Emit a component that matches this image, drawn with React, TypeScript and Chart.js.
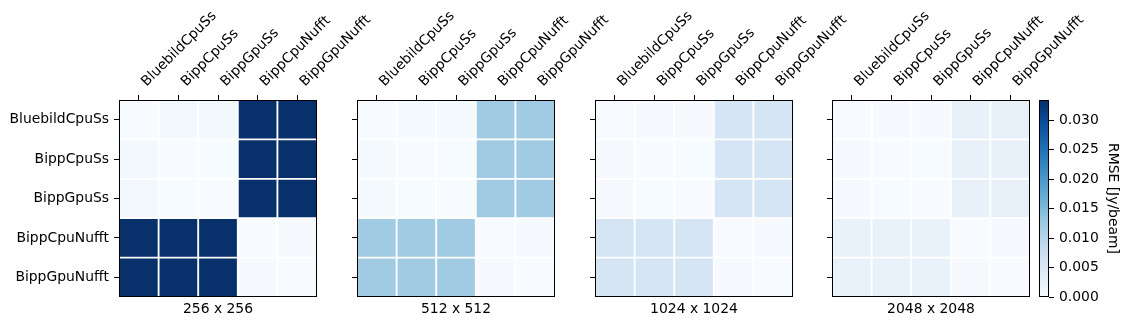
import React, { useEffect, useRef } from "react";
import { Chart, registerables } from "chart.js";
Chart.register(...registerables);

const methods = ["BluebildCpuSs", "BippCpuSs", "BippGpuSs", "BippCpuNufft", "BippGpuNufft"];
const resolutions = ["256 x 256", "512 x 512", "1024 x 1024", "2048 x 2048"];

const rmse256 = [
  [0.0000, 0.0007, 0.0007, 0.0334, 0.0334],
  [0.0007, 0.0000, 0.0001, 0.0334, 0.0334],
  [0.0007, 0.0001, 0.0000, 0.0334, 0.0334],
  [0.0334, 0.0334, 0.0334, 0.0000, 0.0002],
  [0.0334, 0.0334, 0.0334, 0.0002, 0.0000],
];
const rmse512 = [
  [0.0000, 0.0003, 0.0003, 0.0123, 0.0123],
  [0.0003, 0.0000, 0.0001, 0.0123, 0.0123],
  [0.0003, 0.0001, 0.0000, 0.0123, 0.0123],
  [0.0123, 0.0123, 0.0123, 0.0000, 0.0002],
  [0.0123, 0.0123, 0.0123, 0.0002, 0.0000],
];
const rmse1024 = [
  [0.0000, 0.0002, 0.0002, 0.0057, 0.0057],
  [0.0002, 0.0000, 0.0001, 0.0057, 0.0057],
  [0.0002, 0.0001, 0.0000, 0.0057, 0.0057],
  [0.0057, 0.0057, 0.0057, 0.0000, 0.0002],
  [0.0057, 0.0057, 0.0057, 0.0002, 0.0000],
];
const rmse2048 = [
  [0.0000, 0.0002, 0.0002, 0.0025, 0.0025],
  [0.0002, 0.0000, 0.0001, 0.0025, 0.0025],
  [0.0002, 0.0001, 0.0000, 0.0025, 0.0025],
  [0.0024, 0.0024, 0.0024, 0.0000, 0.0002],
  [0.0024, 0.0024, 0.0024, 0.0002, 0.0000],
];
const panels = [rmse256, rmse512, rmse1024, rmse2048];
const colorbarMax = 0.0334;
const colorbarTicks = [0, 0.005, 0.01, 0.015, 0.02, 0.025, 0.03];
const colorbarLabel = "RMSE [Jy/beam]";

const BLUES = ["#f7fbff", "#deebf7", "#c6dbef", "#9ecae1", "#6baed6", "#4292c6", "#2171b5", "#08519c", "#08306b"];
function hexToRgb(h: string) {
  return [parseInt(h.slice(1, 3), 16), parseInt(h.slice(3, 5), 16), parseInt(h.slice(5, 7), 16)];
}
function blues(t: number) {
  const tt = Math.max(0, Math.min(1, t));
  const x = tt * 8;
  const i = Math.min(7, Math.floor(x));
  const f = x - i;
  const a = hexToRgb(BLUES[i]);
  const b = hexToRgb(BLUES[i + 1]);
  const c = a.map((v, k) => Math.round(v + (b[k] - v) * f));
  return `rgb(${c[0]},${c[1]},${c[2]})`;
}

const FONT = { family: "DejaVu Sans", size: 13.9 };
const PLOT_LEFTS = [119, 357, 595, 832];
const PLOT_W = 198;
const Y_AXIS_W = 119;
const RIGHT_PAD = 80;
const H = 327;

const framePlugin = {
  id: "frame",
  afterDraw(chart: any) {
    const { ctx, chartArea } = chart;
    ctx.save();
    ctx.strokeStyle = "#000";
    ctx.lineWidth = 1;
    ctx.strokeRect(
      Math.round(chartArea.left) + 0.5,
      Math.round(chartArea.top) + 0.5,
      Math.round(chartArea.right - chartArea.left) - 1,
      Math.round(chartArea.bottom - chartArea.top) - 1
    );
    ctx.restore();
  },
};

function Panel({ values, title, showY, left }: { values: number[][]; title: string; showY: boolean; left: number }) {
  const ref = useRef<HTMLCanvasElement>(null);
  useEffect(() => {
    const datasets = values.map((row) => ({
      data: row.map(() => 1),
      backgroundColor: row.map((v) => blues(v / colorbarMax)),
      borderColor: "#ffffff",
      borderWidth: 1.25,
      borderSkipped: false,
      barPercentage: 1,
      categoryPercentage: 1,
    }));
    const chart = new Chart(ref.current as HTMLCanvasElement, {
      type: "bar",
      data: { labels: methods, datasets: datasets as any },
      options: {
        responsive: false,
        animation: false,
        devicePixelRatio: 1,
        layout: { padding: { left: 0, right: RIGHT_PAD, top: 0, bottom: 0 } },
        plugins: { legend: { display: false }, tooltip: { enabled: false } },
        scales: {
          x: {
            type: "category",
            position: "top",
            stacked: true,
            offset: true,
            grid: { display: true, drawOnChartArea: false, drawTicks: true, tickLength: 5, offset: false, color: "#000" },
            border: { display: false },
            ticks: { color: "#000", font: FONT, minRotation: 45, maxRotation: 45, autoSkip: false, padding: 5, labelOffset: 17 },
            afterFit: (s: any) => { s.height = 100; },
          },
          x2: {
            type: "category",
            position: "bottom",
            labels: methods,
            grid: { display: false },
            border: { display: false },
            ticks: { display: false },
            title: { display: true, text: title, color: "#000", font: FONT, padding: { top: 0, bottom: 9.5 } },
            afterFit: (s: any) => { s.height = 30; },
          },
          y: {
            type: "linear",
            stacked: true,
            reverse: true,
            min: 0,
            max: 5,
            position: "left",
            grid: { drawOnChartArea: false, drawTicks: true, tickLength: 5, color: "#000" },
            border: { display: false },
            afterBuildTicks: (s: any) => { s.ticks = methods.map((_, i) => ({ value: i + 0.5 })); },
            ticks: {
              color: "#000",
              font: FONT,
              padding: 5,
              autoSkip: false,
              callback: (_v: any, i: number) => (showY ? methods[i] : ""),
            },
            afterFit: (s: any) => { s.width = Y_AXIS_W; },
          },
        },
      } as any,
      plugins: [framePlugin],
    });
    return () => chart.destroy();
  }, []);
  const w = Y_AXIS_W + PLOT_W + RIGHT_PAD;
  return (
    <canvas
      ref={ref}
      width={w}
      height={H}
      style={{ position: "absolute", left: left - Y_AXIS_W, top: 0, width: w, height: H, display: "block" }}
    />
  );
}

function Colorbar() {
  const ref = useRef<HTMLCanvasElement>(null);
  const left = 1039;
  const w = 1128 - left;
  useEffect(() => {
    const chart = new Chart(ref.current as HTMLCanvasElement, {
      type: "bar",
      data: {
        labels: [""],
        datasets: [
          {
            data: [colorbarMax],
            backgroundColor: (c: any) => {
              const ca = c.chart.chartArea;
              if (!ca) return BLUES[0];
              const g = c.chart.ctx.createLinearGradient(0, ca.bottom, 0, ca.top);
              BLUES.forEach((col, i) => g.addColorStop(i / 8, col));
              return g;
            },
            borderWidth: 0,
            barPercentage: 1,
            categoryPercentage: 1,
          } as any,
        ],
      },
      options: {
        responsive: false,
        animation: false,
        devicePixelRatio: 1,
        layout: { padding: { left: 0, right: 0, top: 100, bottom: 30 } },
        plugins: { legend: { display: false }, tooltip: { enabled: false } },
        scales: {
          x: { display: false },
          y: {
            position: "right",
            min: 0,
            max: colorbarMax,
            grid: { drawOnChartArea: false, drawTicks: true, tickLength: 5, color: "#000" },
            border: { display: false },
            afterBuildTicks: (s: any) => { s.ticks = colorbarTicks.map((v) => ({ value: v })); },
            ticks: { color: "#000", font: FONT, padding: 5, callback: (v: any) => Number(v).toFixed(3) },
            title: { display: true, text: colorbarLabel, color: "#000", font: FONT, padding: { top: 7.5, bottom: 0 } },
            afterFit: (s: any) => { s.width = w - 10; },
          },
        },
      } as any,
      plugins: [framePlugin],
    });
    return () => chart.destroy();
  }, []);
  return (
    <canvas
      ref={ref}
      width={w}
      height={H}
      style={{ position: "absolute", left, top: 0, width: w, height: H, display: "block" }}
    />
  );
}

export default function App() {
  return (
    <div style={{ position: "absolute", left: 0, top: 0, width: 1128, height: H, background: "#fff", overflow: "hidden" }}>
      {panels.map((vals, i) => (
        <Panel key={i} values={vals} title={resolutions[i]} showY={i === 0} left={PLOT_LEFTS[i]} />
      ))}
      <Colorbar />
    </div>
  );
}
